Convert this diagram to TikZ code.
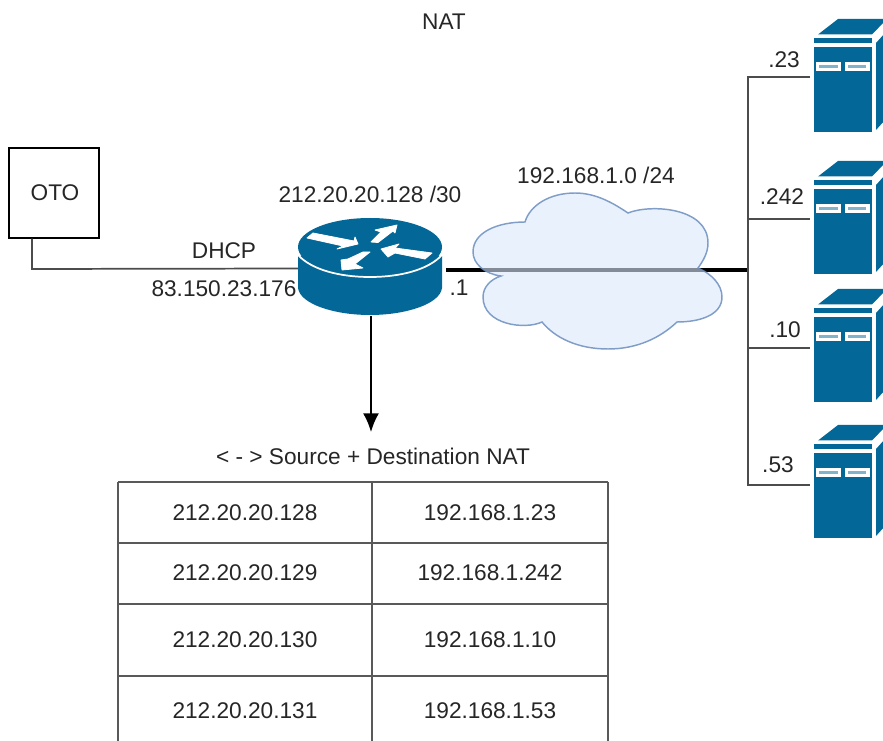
\documentclass[tikz,border=0pt]{standalone}
\usepackage{fontspec}
\setmainfont{Liberation Sans}
\usetikzlibrary{arrows.meta}
\definecolor{ciscoblue}{HTML}{036897}
\definecolor{txt}{HTML}{262626}
\definecolor{cloudfill}{HTML}{DAE8FC}
\definecolor{cloudline}{HTML}{6C8EBF}
\tikzset{
  label text/.style={font=\fontsize{17pt}{20pt}\selectfont, text=txt, inner sep=0pt},
  wire/.style={draw=black!70, line width=1.3pt},
  thick wire/.style={draw=black, line width=2.3pt},
  grid line/.style={draw=black!65, line width=1.1pt},
  anchor box/.style={inner sep=0pt, minimum width=#1, draw=none},
  white arrow/.style={fill=white, draw=white, line width=.6pt, line join=round},
  server/.pic={
    \fill[ciscoblue] (8,16.5) -- (28,1) -- (75,1) -- (75,3) -- (62,16.5) -- cycle;
    \fill[ciscoblue] (4,20.5) rectangle (62,25);
    \fill[ciscoblue] (4,29) rectangle (62,114);
    \fill[ciscoblue] (66,25) -- (75,15) -- (75,102) -- (66,112) -- cycle;
    \fill[white] (6,44) rectangle (31,53);
    \fill[white] (35,44) rectangle (60,53);
    \fill[white!50!ciscoblue] (9,47) rectangle (28,50);
    \fill[white!50!ciscoblue] (38,47) rectangle (56,50);
  }
}
\begin{document}
\begin{tikzpicture}[x=0.75pt,y=-0.75pt]
\useasboundingbox (0,0) rectangle (883,741);
\clip (0,0) rectangle (883,741);

% anchors
\node[draw=black, line width=1pt, minimum width=67.5pt, minimum height=67.5pt, inner sep=0pt, label text] (oto) at (54,193) {\hspace{1.5pt}OTO};
\node[anchor box=108pt, minimum height=72pt] (router) at (371,267) {};
\coordinate (ingress) at (298,268.5);
\coordinate (otoel) at (32,269);
\coordinate (egress) at (446,270);
\coordinate (bus) at (748,270);
\coordinate (bustop) at (748,77);
\coordinate (busbot) at (748,485);
\coordinate (b242) at (748,219);
\coordinate (b10) at (748,348);
\coordinate (s23) at (810,77);
\coordinate (s242) at (810,219);
\coordinate (s10) at (810,348);
\coordinate (s53) at (810,485);
\coordinate (natlbl) at (371,432);

% connectors
\draw[wire] (oto.south -| otoel) -- (otoel) -- (ingress);
\draw[thick wire] (egress) -- (bus);
\draw[wire, line width=1.5pt] (s23) -- (bustop) -- (busbot) -- (s53);
\draw[wire, line width=1.5pt] (b242) -- (s242);
\draw[wire, line width=1.5pt] (b10) -- (s10);
\draw[black, line width=1.4pt, -{Latex[length=14pt,width=12pt]}] (router.south) ++(0,1) -- (natlbl);

% cloud
\path[fill=cloudfill, draw=cloudline, line width=1.1pt, fill opacity=.6, draw opacity=.85]
  (525,222)
  .. controls (530,205) and (550,193) .. (575,193)
  .. controls (596,193) and (613,203) .. (628,213)
  .. controls (650,204) and (708,207) .. (708,243)
  .. controls (708,253) and (703,261) .. (698,268)
  .. controls (712,274) and (722,285) .. (722,297)
  .. controls (722,315) and (700,322) .. (677,322)
  .. controls (660,338) and (637,349) .. (608,349)
  .. controls (578,349) and (555,338) .. (542,322)
  .. controls (525,330) and (483,325) .. (483,297)
  .. controls (483,287) and (491,279) .. (501,276)
  .. controls (485,274) and (473,264) .. (473,252)
  .. controls (473,232) and (498,222) .. (525,222)
  -- cycle;

% router
\fill[ciscoblue] (298,256) -- (298,288) .. controls (300,304) and (334,315) .. (370,315)
  .. controls (406,315) and (440,304) .. (442,288) -- (442,256) -- cycle;
\fill[ciscoblue] (370,247) ellipse [x radius=72, y radius=29];
\draw[white, line width=1.3pt] (298,255) .. controls (312,270) and (340,277) .. (370,277)
  .. controls (400,277) and (428,270) .. (442,255);
\filldraw[white arrow] (307,238) -- (313,233) -- (354,241) -- (355,237) -- (358,244) -- (337,249) -- (343,246) -- cycle;
\filldraw[white arrow] (371,242) -- (378,242.5) -- (393,231) -- (395,233) -- (397,225) -- (375,230) -- (381,232) -- cycle;
\filldraw[white arrow] (381,249) -- (399,244) -- (395,248) -- (432,253) -- (425,259) -- (395,253) -- (388,257) -- cycle;
\filldraw[white arrow] (370,252) -- (363,252) -- (348,259) -- (341,260) -- (342,270) -- (363,268) -- (355,264) -- cycle;

% servers
\pic at (810,18) {server};
\pic at (810,160) {server};
\pic at (810,288) {server};
\pic at (810,424) {server};

% table
\draw[grid line] (118,482) -- (608,482);
\draw[grid line] (118,543) -- (608,543);
\draw[grid line] (118,604) -- (608,604);
\draw[grid line] (118,676) -- (608,676);
\draw[grid line] (118,482) -- (118,741);
\draw[grid line] (372,482) -- (372,741);
\draw[grid line] (608,482) -- (608,741);

% labels
\node[label text] (title) at (444,21.5) {NAT};
\node[label text] (dhcp) at (224,251) {DHCP};
\node[label text] (wan) at (224,289) {83.150.23.176};
\node[label text] (pub) at (370,194.5) {212.20.20.128 /30};
\node[label text] (lan) at (596,175) {192.168.1.0 /24};
\node[label text] (gw) at (459,288) {.1};
\node[label text] (l23) at (784,60) {.23};
\node[label text] (l242) at (782,197) {.242};
\node[label text] (l10) at (785,329.5) {.10};
\node[label text] (l53) at (778,465) {.53};
\node[label text] (natt) at (373,456.5) {< - > Source + Destination NAT};
\node[label text] (a1) at (245,512.5) {212.20.20.128};
\node[label text] (b1) at (490,512.5) {192.168.1.23};
\node[label text] (a2) at (245,572.5) {212.20.20.129};
\node[label text] (b2) at (490,572.5) {192.168.1.242};
\node[label text] (a3) at (245,639.5) {212.20.20.130};
\node[label text] (b3) at (490,639.5) {192.168.1.10};
\node[label text] (a4) at (245,710.5) {212.20.20.131};
\node[label text] (b4) at (490,710.5) {192.168.1.53};
\end{tikzpicture}
\end{document}
